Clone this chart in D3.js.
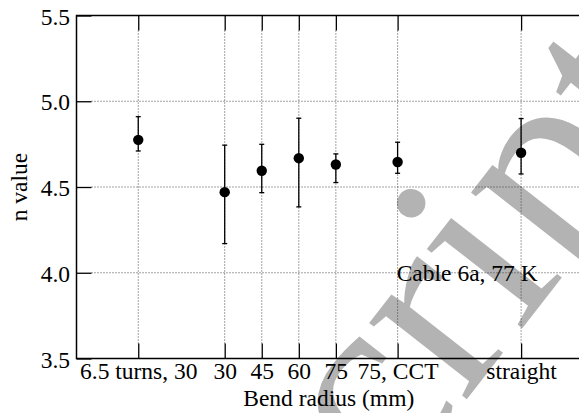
<!DOCTYPE html>
<html>
<head>
<meta charset="utf-8">
<script src="https://cdn.jsdelivr.net/npm/d3@7"></script>
<style>
  html, body { margin: 0; padding: 0; background: #fff; }
  svg { display: block; }
</style>
</head>
<body>
<svg id="chart" width="579" height="413"></svg>
<script>
// Bend radius positions (mm) used to place each sample on the x axis
const positions = [-5, 30, 45, 60, 75, 100, 150];
const tickLabels = ["6.5 turns, 30", "30", "45", "60", "75", "75, CCT", "straight"];
// Measured n values with lower / upper error bounds
const nValues = [4.775, 4.47, 4.595, 4.668, 4.631, 4.646, 4.70];
const nLow    = [4.71, 4.17, 4.467, 4.384, 4.526, 4.58, 4.576];
const nHigh   = [4.91, 4.744, 4.749, 4.901, 4.693, 4.761, 4.899];
const yTicks  = [3.5, 4.0, 4.5, 5.0, 5.5];

const SERIF = '"Liberation Serif", "Times New Roman", Times, serif';
const FS = "23.5px";
const plotLeft = 76.5, plotTop = 15.5, plotBottom = 358.5;
const svg = d3.select("#chart");

const x = d3.scaleLinear().domain([-30, 180]).range([plotLeft, plotLeft + 210 * 2.47]);
const y = d3.scaleLinear().domain([3.5, 5.5]).range([plotBottom, plotTop]);
const plotRight = x(180);

// Background watermark, rotated so the dot of the last "i" sits at a fixed spot
const wmText = "Accepted Manuscript", wmSize = 270, wmAngle = 52;
const wm = svg.append("text")
  .style("font-family", SERIF)
  .style("font-size", wmSize + "px").style("fill", "#b3b3b3")
  .text(wmText);
{
  const k = wmText.lastIndexOf("i");
  const p = wm.node().getStartPositionOfChar(k);
  const w = wm.node().getExtentOfChar(k).width;
  const lx = p.x + w * 0.5, ly = -0.62 * wmSize;
  const a = wmAngle * Math.PI / 180;
  const rx = lx * Math.cos(a) + ly * Math.sin(a);
  const ry = -lx * Math.sin(a) + ly * Math.cos(a);
  wm.attr("transform", `translate(${410 - rx},${200 - ry}) rotate(${-wmAngle})`);
}

const tickLen = 15;
const grid = svg.append("g")
  .attr("stroke", "#333").attr("stroke-width", 0.9)
  .attr("stroke-dasharray", "1,2").attr("fill", "none");

// Horizontal grid
grid.selectAll("line.h").data(yTicks.filter(v => v > 3.5 && v < 5.5)).join("line")
  .attr("class", "h")
  .attr("x1", plotLeft + tickLen).attr("x2", plotRight)
  .attr("y1", d => y(d)).attr("y2", d => y(d));
// Vertical grid
grid.selectAll("line.v").data(positions).join("line")
  .attr("class", "v")
  .attr("x1", d => x(d)).attr("x2", d => x(d))
  .attr("y1", plotTop + tickLen).attr("y2", plotBottom - tickLen);

// Axes with inward ticks and custom tick text
const xAxisB = d3.axisBottom(x).tickValues(positions).tickSize(-tickLen).tickFormat((d, i) => tickLabels[i]);
const xAxisT = d3.axisTop(x).tickValues(positions).tickSize(-tickLen).tickFormat("");
const yAxisL = d3.axisLeft(y).tickValues(yTicks).tickSize(-tickLen).tickFormat(d3.format(".1f"));

function style(g) {
  g.attr("font-family", null).attr("font-size", null);
  g.select(".domain").remove();
  g.selectAll(".tick line").attr("stroke", "#000").attr("stroke-width", 1.3);
  g.selectAll(".tick text").style("font-family", SERIF).style("font-size", FS).attr("fill", "#000");
}

const gB = svg.append("g").attr("transform", `translate(0,${plotBottom})`).call(xAxisB).call(style);
gB.selectAll(".tick text").attr("dy", "0").attr("y", 20);
svg.append("g").attr("transform", `translate(0,${plotTop})`).call(xAxisT).call(style);
const gL = svg.append("g").attr("transform", `translate(${plotLeft},0)`).call(yAxisL).call(style);
gL.selectAll(".tick text").attr("dy", "0").attr("y", 8.5).attr("x", -6.5);

// Frame
svg.append("path")
  .attr("d", `M${plotRight},${plotTop}H${plotLeft}V${plotBottom}H${plotRight}`)
  .attr("fill", "none").attr("stroke", "#000").attr("stroke-width", 1.5);

// Error bars
const eb = svg.append("g").attr("stroke", "#000").attr("stroke-width", 1.3);
positions.forEach((p, i) => {
  const cx = x(p);
  eb.append("line").attr("x1", cx).attr("x2", cx).attr("y1", y(nLow[i])).attr("y2", y(nHigh[i]));
  eb.append("line").attr("x1", cx - 2.5).attr("x2", cx + 2.5).attr("y1", y(nLow[i])).attr("y2", y(nLow[i]));
  eb.append("line").attr("x1", cx - 2.5).attr("x2", cx + 2.5).attr("y1", y(nHigh[i])).attr("y2", y(nHigh[i]));
});

// Points
svg.append("g").selectAll("circle").data(positions).join("circle")
  .attr("cx", d => x(d)).attr("cy", (d, i) => y(nValues[i])).attr("r", 5.2).attr("fill", "#000");

// Annotation and axis titles
const label = sel => sel.style("font-family", SERIF).style("font-size", FS).attr("fill", "#000");
svg.append("text").attr("x", 396.7).attr("y", 280.7).call(label).text("Cable 6a, 77 K");
svg.append("text").attr("x", (plotLeft + 579) / 2 + 1).attr("y", 405.7).attr("text-anchor", "middle")
  .call(label).text("Bend radius (mm)");
svg.append("text").attr("transform", `translate(26.7,${(plotTop + plotBottom) / 2}) rotate(-90)`)
  .attr("text-anchor", "middle").call(label).text("n value");
</script>
</body>
</html>
